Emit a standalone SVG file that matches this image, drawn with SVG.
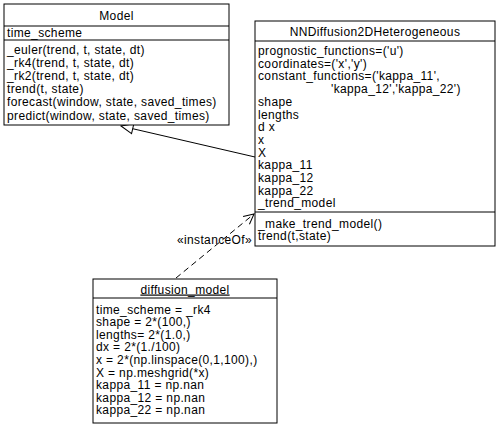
<svg xmlns="http://www.w3.org/2000/svg" width="500" height="428" viewBox="0 0 500 428">
<style>
  .box{fill:#fff;stroke:#000;stroke-width:1}
  .div{stroke:#000;stroke-width:1}
  text{font-family:"Liberation Sans",Arial,sans-serif;font-size:12px;letter-spacing:0.36px;fill:#000}
  .c{text-anchor:middle}
  .conn{fill:none;stroke:#000;stroke-width:1}
</style>
<defs>
  <marker id="gen" markerWidth="14" markerHeight="12" refX="13" refY="6" orient="auto" markerUnits="userSpaceOnUse">
    <path d="M1,1 L13,6 L1,11 Z" fill="#fff" stroke="#000" stroke-width="1"/>
  </marker>
  <marker id="dep" markerWidth="12" markerHeight="12" refX="11" refY="6" orient="auto" markerUnits="userSpaceOnUse">
    <path d="M1,1 L11,6 L1,11" fill="none" stroke="#000" stroke-width="1"/>
  </marker>
</defs>
<g id="connectors">
  <line class="conn" x1="255" y1="157" x2="121" y2="126" marker-end="url(#gen)"/>
  <line class="conn" x1="176" y1="278" x2="254" y2="214" stroke-dasharray="6,4" marker-end="url(#dep)"/>
  <text x="252" y="244" text-anchor="end">«instanceOf»</text>
</g>
<g id="Model">
  <rect class="box" x="4" y="4" width="225" height="121"/>
  <line class="div" x1="4" y1="26" x2="229" y2="26"/>
  <line class="div" x1="4" y1="40" x2="229" y2="40"/>
  <text class="c" x="116.5" y="19.5">Model</text>
  <text x="7" y="36.5">time_scheme</text>
  <text x="7" y="53.5">_euler(trend, t, state, dt)</text>
  <text x="7" y="66.7">_rk4(trend, t, state, dt)</text>
  <text x="7" y="79.9">_rk2(trend, t, state, dt)</text>
  <text x="7" y="93.1">trend(t, state)</text>
  <text x="7" y="106.3">forecast(window, state, saved_times)</text>
  <text x="7" y="119.5">predict(window, state, saved_times)</text>
</g>
<g id="NNDiffusion2DHeterogeneous">
  <rect class="box" x="255" y="21" width="240" height="225"/>
  <line class="div" x1="255" y1="41" x2="495" y2="41"/>
  <line class="div" x1="255" y1="212" x2="495" y2="212"/>
  <text class="c" x="375" y="36">NNDiffusion2DHeterogeneous</text>
  <text x="258" y="55">prognostic_functions=('u')</text>
  <text x="258" y="67.7">coordinates=('x','y')</text>
  <text x="258" y="80.4">constant_functions=('kappa_11',</text>
  <text x="331" y="93.1">'kappa_12','kappa_22')</text>
  <text x="258" y="105.8">shape</text>
  <text x="258" y="118.5">lengths</text>
  <text x="258" y="131.2">d x</text>
  <text x="258" y="143.9">x</text>
  <text x="258" y="156.6">X</text>
  <text x="258" y="169.3">kappa_11</text>
  <text x="258" y="182">kappa_12</text>
  <text x="258" y="194.7">kappa_22</text>
  <text x="258" y="207.4">_trend_model</text>
  <text x="258" y="227.5">_make_trend_model()</text>
  <text x="258" y="240.2">trend(t,state)</text>
</g>
<g id="diffusion_model">
  <rect class="box" x="93" y="279" width="184" height="144"/>
  <line class="div" x1="93" y1="298" x2="277" y2="298"/>
  <text class="c" x="185" y="293.5" text-decoration="underline">diffusion_model</text>
  <text x="96" y="313.5">time_scheme = _rk4</text>
  <text x="96" y="326.1">shape = 2*(100,)</text>
  <text x="96" y="338.7">lengths= 2*(1.0,)</text>
  <text x="96" y="351.3">dx = 2*(1./100)</text>
  <text x="96" y="363.9">x = 2*(np.linspace(0,1,100),)</text>
  <text x="96" y="376.5">X = np.meshgrid(*x)</text>
  <text x="96" y="389.1">kappa_11 = np.nan</text>
  <text x="96" y="401.7">kappa_12 = np.nan</text>
  <text x="96" y="414.3">kappa_22 = np.nan</text>
</g>
</svg>
